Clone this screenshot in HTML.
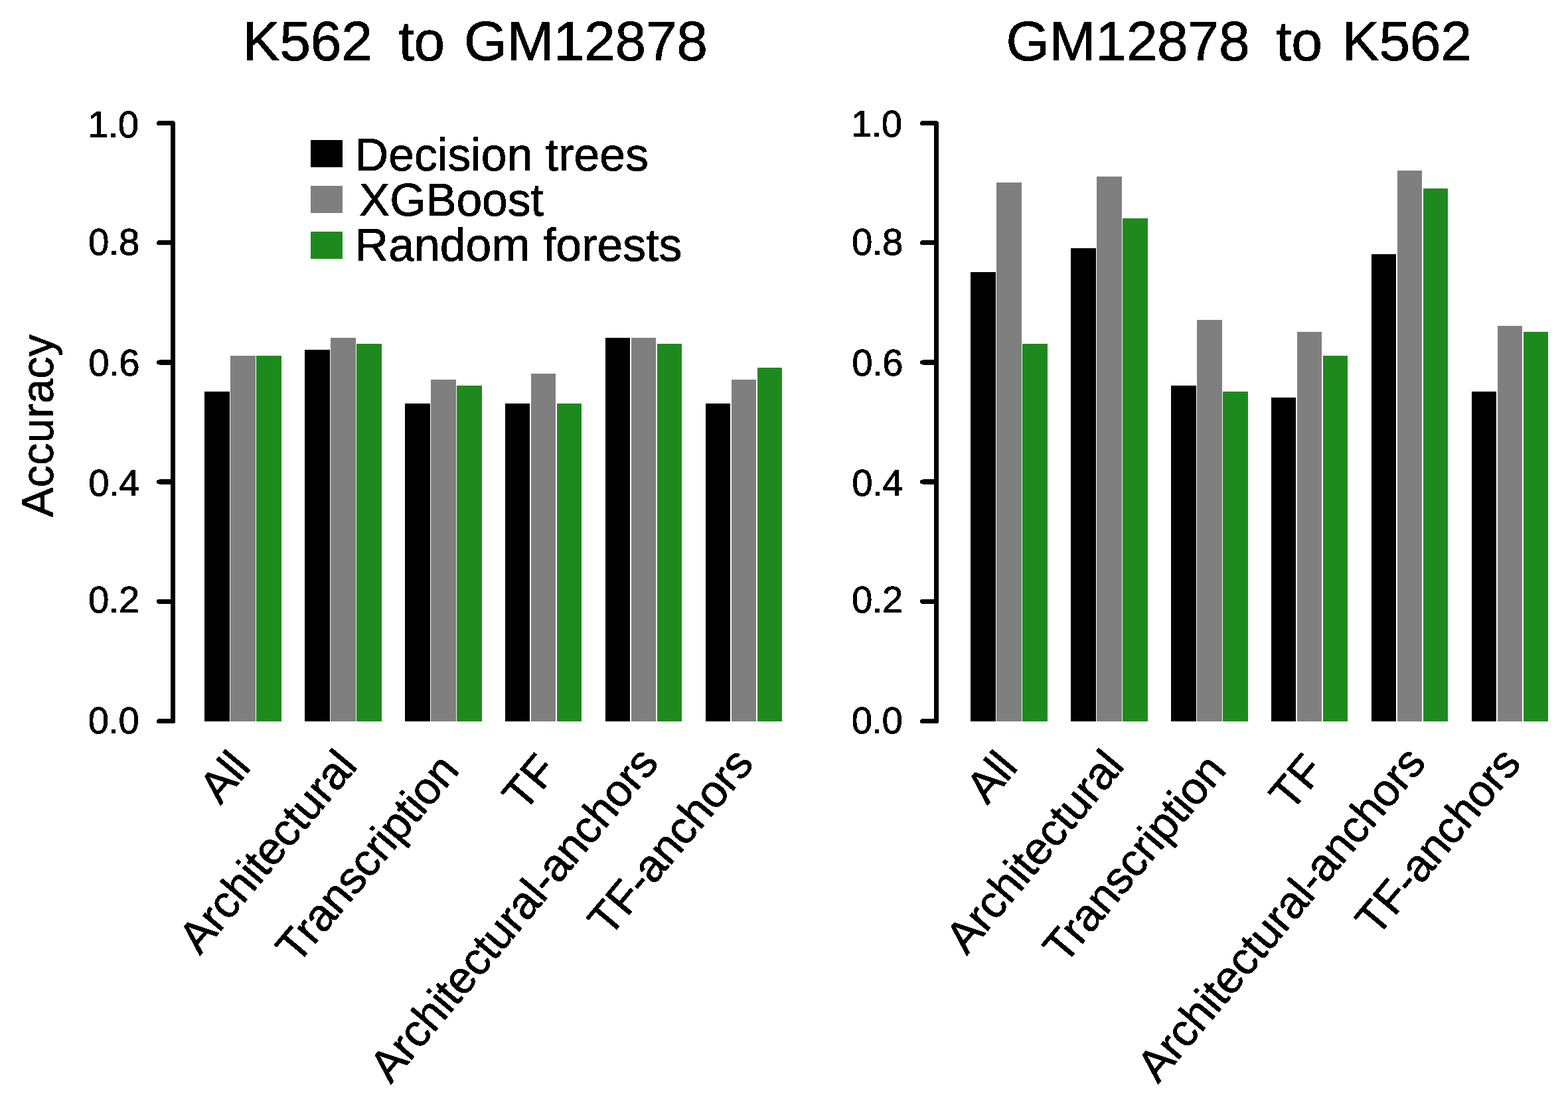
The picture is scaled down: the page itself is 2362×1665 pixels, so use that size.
<!DOCTYPE html>
<html lang="en"><head><meta charset="utf-8"><title>Accuracy of cross cell-type prediction</title>
<style>html,body{margin:0;padding:0;background:#fff}body{width:2362px;height:1665px;overflow:hidden}svg{display:block}text{font-family:"Liberation Sans", Arial, Helvetica, sans-serif;fill:#000;stroke:#000;stroke-width:0.8;stroke-linejoin:round;text-rendering:geometricPrecision}.ax{stroke:#000;stroke-width:7;stroke-linecap:round;stroke-linejoin:round;fill:none}</style>
</head><body>
<svg width="2362" height="1665" viewBox="0 0 2362 1665">
<rect x="0" y="0" width="2362" height="1665" fill="#ffffff"/>
<defs><filter id="px" filterUnits="userSpaceOnUse" x="0" y="0" width="2362" height="1665" color-interpolation-filters="sRGB"><feComponentTransfer><feFuncA type="discrete" tableValues="0 1"/></feComponentTransfer></filter></defs>
<g id="bars">
<rect x="308.0" y="590.0" width="38.0" height="497.0" fill="#000000" shape-rendering="crispEdges"/>
<rect x="347.0" y="536.0" width="38.0" height="551.0" fill="#7f7f7f" shape-rendering="crispEdges"/>
<rect x="386.0" y="536.0" width="38.0" height="551.0" fill="#1e8a1e" shape-rendering="crispEdges"/>
<rect x="459.0" y="527.0" width="38.0" height="560.0" fill="#000000" shape-rendering="crispEdges"/>
<rect x="498.0" y="509.0" width="38.0" height="578.0" fill="#7f7f7f" shape-rendering="crispEdges"/>
<rect x="537.0" y="518.0" width="38.0" height="569.0" fill="#1e8a1e" shape-rendering="crispEdges"/>
<rect x="610.0" y="608.0" width="38.0" height="479.0" fill="#000000" shape-rendering="crispEdges"/>
<rect x="649.0" y="572.0" width="38.0" height="515.0" fill="#7f7f7f" shape-rendering="crispEdges"/>
<rect x="688.0" y="581.0" width="38.0" height="506.0" fill="#1e8a1e" shape-rendering="crispEdges"/>
<rect x="761.0" y="608.0" width="37.0" height="479.0" fill="#000000" shape-rendering="crispEdges"/>
<rect x="800.0" y="563.0" width="37.0" height="524.0" fill="#7f7f7f" shape-rendering="crispEdges"/>
<rect x="839.0" y="608.0" width="37.0" height="479.0" fill="#1e8a1e" shape-rendering="crispEdges"/>
<rect x="912.0" y="509.0" width="37.0" height="578.0" fill="#000000" shape-rendering="crispEdges"/>
<rect x="951.0" y="509.0" width="37.0" height="578.0" fill="#7f7f7f" shape-rendering="crispEdges"/>
<rect x="990.0" y="518.0" width="37.0" height="569.0" fill="#1e8a1e" shape-rendering="crispEdges"/>
<rect x="1063.0" y="608.0" width="37.0" height="479.0" fill="#000000" shape-rendering="crispEdges"/>
<rect x="1102.0" y="572.0" width="37.0" height="515.0" fill="#7f7f7f" shape-rendering="crispEdges"/>
<rect x="1141.0" y="554.0" width="37.0" height="533.0" fill="#1e8a1e" shape-rendering="crispEdges"/>
<rect x="468" y="211" width="48" height="41" fill="#000000" shape-rendering="crispEdges"/>
<rect x="468" y="280" width="48" height="41" fill="#7f7f7f" shape-rendering="crispEdges"/>
<rect x="468" y="349" width="48" height="41" fill="#1e8a1e" shape-rendering="crispEdges"/>
<rect x="1462.0" y="410.0" width="38.0" height="677.0" fill="#000000" shape-rendering="crispEdges"/>
<rect x="1501.0" y="275.0" width="38.0" height="812.0" fill="#7f7f7f" shape-rendering="crispEdges"/>
<rect x="1540.0" y="518.0" width="38.0" height="569.0" fill="#1e8a1e" shape-rendering="crispEdges"/>
<rect x="1613.0" y="374.0" width="38.0" height="713.0" fill="#000000" shape-rendering="crispEdges"/>
<rect x="1652.0" y="266.0" width="38.0" height="821.0" fill="#7f7f7f" shape-rendering="crispEdges"/>
<rect x="1691.0" y="329.0" width="38.0" height="758.0" fill="#1e8a1e" shape-rendering="crispEdges"/>
<rect x="1764.0" y="581.0" width="38.0" height="506.0" fill="#000000" shape-rendering="crispEdges"/>
<rect x="1803.0" y="482.0" width="38.0" height="605.0" fill="#7f7f7f" shape-rendering="crispEdges"/>
<rect x="1842.0" y="590.0" width="38.0" height="497.0" fill="#1e8a1e" shape-rendering="crispEdges"/>
<rect x="1915.0" y="599.0" width="37.0" height="488.0" fill="#000000" shape-rendering="crispEdges"/>
<rect x="1954.0" y="500.0" width="37.0" height="587.0" fill="#7f7f7f" shape-rendering="crispEdges"/>
<rect x="1993.0" y="536.0" width="37.0" height="551.0" fill="#1e8a1e" shape-rendering="crispEdges"/>
<rect x="2066.0" y="383.0" width="37.0" height="704.0" fill="#000000" shape-rendering="crispEdges"/>
<rect x="2105.0" y="257.0" width="37.0" height="830.0" fill="#7f7f7f" shape-rendering="crispEdges"/>
<rect x="2144.0" y="284.0" width="37.0" height="803.0" fill="#1e8a1e" shape-rendering="crispEdges"/>
<rect x="2217.0" y="590.0" width="37.0" height="497.0" fill="#000000" shape-rendering="crispEdges"/>
<rect x="2256.0" y="491.0" width="37.0" height="596.0" fill="#7f7f7f" shape-rendering="crispEdges"/>
<rect x="2295.0" y="500.0" width="37.0" height="587.0" fill="#1e8a1e" shape-rendering="crispEdges"/>
</g>
<g id="ink" filter="url(#px)">
<text x="365.6" y="91.4" font-size="84" letter-spacing="-0.3">K562 <tspan dx="16.95">to</tspan> <tspan dx="5.85">GM12878</tspan></text>
<path class="ax" d="M260.5 185.5V1086.5M239.5 1086.5H260.5M239.5 906.3H260.5M239.5 726.1H260.5M239.5 545.9H260.5M239.5 365.7H260.5M239.5 185.5H260.5"/>
<text x="209.3" y="1104.8" font-size="56.4" letter-spacing="-0.6" text-anchor="end">0.0</text>
<text x="209.7" y="922.8" font-size="56.4" letter-spacing="-0.6" text-anchor="end">0.2</text>
<text x="209.9" y="747.1" font-size="56.4" letter-spacing="-0.6" text-anchor="end">0.4</text>
<text x="209.9" y="565.5" font-size="56.4" letter-spacing="-0.6" text-anchor="end">0.6</text>
<text x="209.7" y="383.6" font-size="56.4" letter-spacing="-0.6" text-anchor="end">0.8</text>
<text x="208.6" y="206.8" font-size="56.4" letter-spacing="-0.6" text-anchor="end">1.0</text>
<text transform="translate(379.6 1157.6) rotate(-50)" font-size="68" text-anchor="end" letter-spacing="-0.5">All</text>
<text transform="translate(540.1 1155.5) rotate(-50)" font-size="68" text-anchor="end" letter-spacing="-0.45">Architectural</text>
<text transform="translate(693.7 1162.0) rotate(-50)" font-size="68" text-anchor="end" letter-spacing="-0.62">Transcription</text>
<text transform="translate(841.9 1162.1) rotate(-50)" font-size="68" text-anchor="end" letter-spacing="-0.4">TF</text>
<text transform="translate(994.0 1151.2) rotate(-50)" font-size="68" text-anchor="end" letter-spacing="-0.55">Architectural-anchors</text>
<text transform="translate(1137.2 1152.5) rotate(-50)" font-size="68" text-anchor="end" letter-spacing="-0.63">TF-anchors</text>
<text transform="translate(79.6 641.5) rotate(-90)" font-size="67" text-anchor="middle">Accuracy</text>
<text x="534.8" y="256.6" font-size="69.7" letter-spacing="0.05">Decision trees</text>
<text x="540.8" y="325.4" font-size="69.7" letter-spacing="-0.15">XGBoost</text>
<text x="534.8" y="392.7" font-size="69.7" letter-spacing="0.05">Random forests</text>
<text x="1515.5" y="91.4" font-size="84" letter-spacing="-0.3">GM12878 <tspan dx="16.95">to</tspan> <tspan dx="6.85">K562</tspan></text>
<path class="ax" d="M1410.5 185.5V1086.5M1389.5 1086.5H1410.5M1389.5 906.3H1410.5M1389.5 726.1H1410.5M1389.5 545.9H1410.5M1389.5 365.7H1410.5M1389.5 185.5H1410.5"/>
<text x="1359.3" y="1104.8" font-size="56.4" letter-spacing="-0.6" text-anchor="end">0.0</text>
<text x="1359.7" y="922.8" font-size="56.4" letter-spacing="-0.6" text-anchor="end">0.2</text>
<text x="1359.9" y="747.1" font-size="56.4" letter-spacing="-0.6" text-anchor="end">0.4</text>
<text x="1359.9" y="565.5" font-size="56.4" letter-spacing="-0.6" text-anchor="end">0.6</text>
<text x="1359.7" y="383.6" font-size="56.4" letter-spacing="-0.6" text-anchor="end">0.8</text>
<text x="1358.6" y="206.4" font-size="56.4" letter-spacing="-0.6" text-anchor="end">1.0</text>
<text transform="translate(1534.9 1157.6) rotate(-50)" font-size="68" text-anchor="end" letter-spacing="-0.5">All</text>
<text transform="translate(1695.4 1155.5) rotate(-50)" font-size="68" text-anchor="end" letter-spacing="-0.45">Architectural</text>
<text transform="translate(1849.0 1162.0) rotate(-50)" font-size="68" text-anchor="end" letter-spacing="-0.62">Transcription</text>
<text transform="translate(1997.2 1162.1) rotate(-50)" font-size="68" text-anchor="end" letter-spacing="-0.4">TF</text>
<text transform="translate(2150.0 1150.7) rotate(-50)" font-size="68" text-anchor="end" letter-spacing="-0.55">Architectural-anchors</text>
<text transform="translate(2293.2 1152.0) rotate(-50)" font-size="68" text-anchor="end" letter-spacing="-0.63">TF-anchors</text>
</g>
</svg></body></html>
